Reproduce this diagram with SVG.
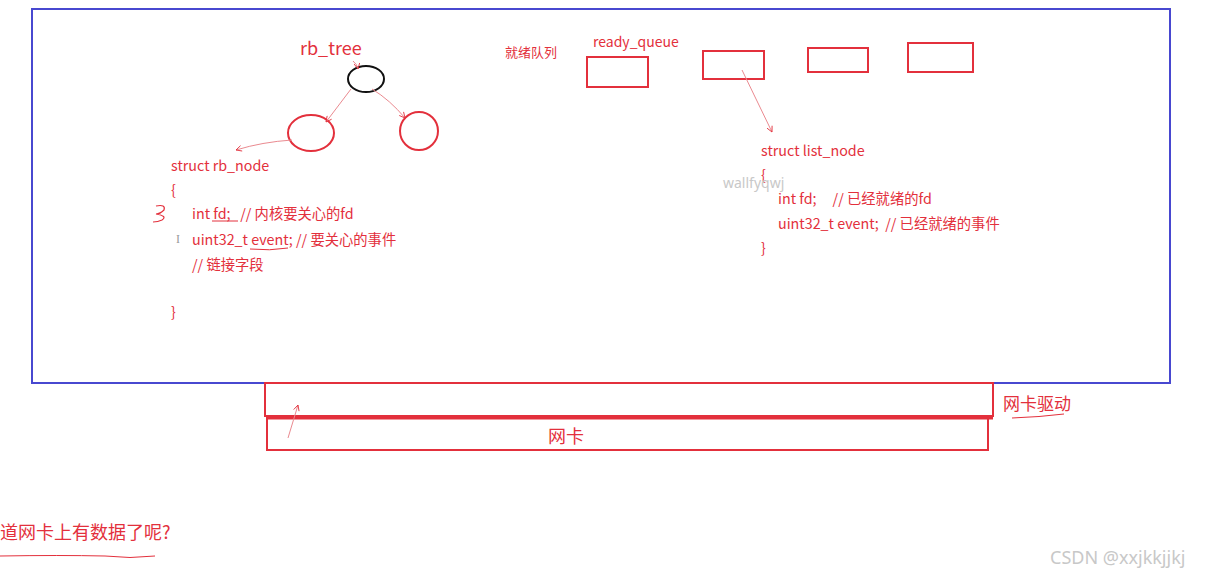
<svg xmlns="http://www.w3.org/2000/svg" width="1219" height="579" viewBox="0 0 1219 579">
<style>
.t{font-family:"Noto Sans CJK SC","Noto Sans",sans-serif;fill:#e3303c;white-space:pre}
.s{fill:none;stroke:#e3303c}
.th{stroke:#ea8a90;stroke-width:1;fill:none}
.w{font-family:"Noto Sans","Liberation Sans",sans-serif;fill:#c8c8c8}
</style>
<defs>
<marker id="ah" viewBox="0 0 10 10" refX="9" refY="5" markerWidth="7" markerHeight="7" orient="auto" markerUnits="userSpaceOnUse">
<path d="M1,1 L9,5 L1,9" fill="none" stroke="#e3303c" stroke-width="1.2"/>
</marker>
</defs>
<rect width="1219" height="579" fill="#ffffff"/>
<rect id="frame" x="32" y="9" width="1138" height="374" fill="none" stroke="#4848d0" stroke-width="2"/>

<g id="rb_tree">
<text class="t" x="300" y="55" font-size="18">rb_tree</text>
<ellipse cx="366" cy="79" rx="18" ry="13" fill="none" stroke="#111" stroke-width="2"/>
</g>
<g id="rb_left"><ellipse cx="311" cy="133" rx="23" ry="18" class="s" stroke-width="2"/></g>
<g id="rb_right"><ellipse cx="419" cy="131" rx="19" ry="19" class="s" stroke-width="2"/></g>

<g id="rb_node_struct">
<text class="t" x="171" y="171" font-size="14.3">struct rb_node</text>
<text class="t" x="171" y="195" font-size="14.3">{</text>
<text class="t" x="192" y="219" font-size="14.3" xml:space="preserve">int fd;   // 内核要关心的fd</text>
<text class="t" x="192" y="245" font-size="14.3">uint32_t event; // 要关心的事件</text>
<text class="t" x="192" y="270" font-size="14.3">// 链接字段</text>
<text class="t" x="171" y="317" font-size="14.3">}</text>
<path d="M212,221 L238,221" class="s" stroke-width="1"/>
<path d="M250,249 Q270,251 288,248" class="s" stroke-width="1"/>
<path d="M156,206 Q166,204 164,210 Q160,214 156,214 Q168,216 162,220 Q158,222 153,222" class="s" stroke-width="1.2"/>
<text x="176" y="243" font-family="Liberation Serif,serif" font-size="12" fill="#999">I</text>
</g>

<g id="ready_queue">
<text class="t" x="505" y="57" font-size="13">就绪队列</text>
<text class="t" x="593" y="47" font-size="14">ready_queue</text>
<rect x="587" y="57" width="61" height="30" class="s" stroke-width="2"/>
<rect x="703" y="51" width="61" height="28" class="s" stroke-width="2"/>
<rect x="808" y="48" width="60" height="24" class="s" stroke-width="2"/>
<rect x="908" y="43" width="65" height="29" class="s" stroke-width="2"/>
</g>

<g id="list_node_struct">
<text class="t" x="761" y="156" font-size="14.3">struct list_node</text>
<text class="t" x="761" y="180" font-size="14.3">{</text>
<text class="t" x="778" y="204" font-size="14.3" xml:space="preserve">int fd;     // 已经就绪的fd</text>
<text class="t" x="778" y="229" font-size="14.3" xml:space="preserve">uint32_t event;  // 已经就绪的事件</text>
<text class="t" x="761" y="253" font-size="14.3">}</text>
</g>
<text class="w" x="723" y="188" font-size="14">wallfyqwj</text>

<g id="nic_driver">
<rect x="265" y="383" width="728" height="33" class="s" stroke-width="2"/>
<text class="t" x="1003" y="410" font-size="17">网卡驱动</text>
<path d="M1012,418 Q1040,417 1064,414" class="s" stroke-width="1"/>
</g>
<g id="nic">
<rect x="267" y="418" width="721" height="32" class="s" stroke-width="2"/>
<path d="M267,418 L993,418" class="s" stroke-width="3"/>
<text class="t" x="548" y="443" font-size="18">网卡</text>
</g>

<g id="connectors">
<path d="M353,61 Q357,64 358,69" class="th" marker-end="url(#ah)"/>
<path d="M351,89 L326,122" class="th" marker-end="url(#ah)"/>
<path d="M372,89 Q390,100 405,118" class="th" marker-end="url(#ah)"/>
<path d="M292,140 Q262,142 236,150" class="th" marker-end="url(#ah)"/>
<path d="M742,70 L772,132" class="th" marker-end="url(#ah)"/>
<path d="M288,438 L298,405" class="th" marker-end="url(#ah)"/>
</g>

<g id="question">
<text class="t" x="0" y="539" font-size="18">道网卡上有数据了呢?</text>
<path d="M0,556 Q60,555 105,556 Q130,559 155,556" class="s" stroke-width="1"/>
</g>
<text class="w" x="1050" y="564" font-size="18" fill="#bbb">CSDN @xxjkkjjkj</text>
</svg>
